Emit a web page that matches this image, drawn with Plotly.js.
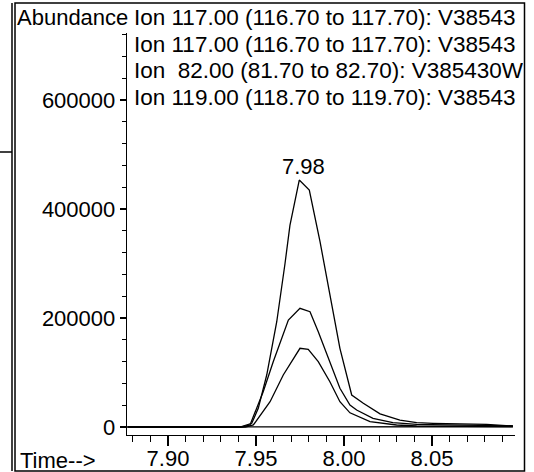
<!DOCTYPE html>
<html><head><meta charset="utf-8">
<script src="https://cdn.plot.ly/plotly-3.0.1.min.js"></script>
<style>html,body{margin:0;padding:0;background:#fff}#chart{width:534px;height:472px}</style>
</head><body><div id="chart"></div>
<script>
// ---- text ----
const ionLabels = [
  "Ion 117.00 (116.70 to 117.70): V38543",
  "Ion 117.00 (116.70 to 117.70): V38543",
  "Ion\u00a0 82.00 (81.70 to 82.70): V385430W",
  "Ion 119.00 (118.70 to 119.70): V38543"
];
const yAxisLabel = "Abundance";
const xAxisLabel = "Time-->";
const peakLabel = "7.98";

// ---- data (time in min, abundance) ----
const timeA  = [7.877, 7.900, 7.920, 7.9409, 7.9476, 7.9513, 7.9561, 7.9618, 7.9665, 7.9693, 7.9746, 7.9803, 7.9864, 7.9920, 7.9977, 8.0044, 8.0110, 8.0205, 8.0318, 8.0413, 8.0506, 8.0811, 8.096];
const abundA = [0, 0, 0, 0, 6800, 34300, 95400, 193200, 300000, 370000, 453200, 434900, 340000, 242200, 144400, 58700, 43500, 24000, 12800, 7900, 6800, 5000, 1800];

const timeB  = [7.877, 7.920, 7.9420, 7.9466, 7.9541, 7.9598, 7.9684, 7.9750, 7.9807, 7.9854, 7.9920, 7.9977, 8.0034, 8.0072, 8.0165, 8.0278, 8.0413, 8.060, 8.080, 8.096];
const abundB = [0, 0, 0, 3700, 64800, 119800, 196300, 217800, 211600, 174900, 119800, 71000, 40400, 31200, 16000, 7900, 5000, 3700, 2800, 1800];

const timeC  = [7.877, 7.920, 7.9440, 7.9485, 7.9580, 7.9655, 7.9712, 7.9750, 7.9797, 7.9854, 7.9920, 7.9977, 8.0034, 8.0148, 8.0299, 8.0413, 8.096];
const abundC = [0, 0, 0, 3700, 46400, 95400, 126100, 144400, 142600, 119800, 83100, 46400, 26000, 9700, 3700, 1800, 900];

const timeD  = [7.877, 7.940, 7.960, 7.975, 7.990, 8.010, 8.096];
const abundD = [300, 400, 700, 1000, 800, 600, 500];

// ---- layout geometry (pixels) ----
const W = 534, H = 472;
const mL = 127, mR = 19, mT = 33, mB = 37;
const pw = W - mL - mR, ph = H - mT - mB;
const px = x => (x - mL) / pw;        // page px -> paper x
const py = y => (H - mB - y) / ph;    // page px -> paper y

const FONT = "Liberation Sans, Arial, Helvetica, sans-serif";
const line = {color: "#000", width: 1.3};

const traces = [
  {x: timeA, y: abundA, name: ionLabels[0]},
  {x: timeC, y: abundC, name: ionLabels[1]},
  {x: timeD, y: abundD, name: ionLabels[2]},
  {x: timeB, y: abundB, name: ionLabels[3]}
].map(t => Object.assign(t, {type: "scatter", mode: "lines", line: line, showlegend: false, hoverinfo: "skip"}));

// apex of main peak
let iMax = 0;
abundA.forEach((v, i) => { if (v > abundA[iMax]) iMax = i; });

const annotations = [
  {xref: "paper", yref: "paper", x: px(15), y: py(17.5), xanchor: "left", yanchor: "middle",
   text: yAxisLabel, showarrow: false, font: {family: FONT, size: 22, color: "#000"}},
  {xref: "paper", yref: "paper", x: px(18), y: py(460), xanchor: "left", yanchor: "middle",
   text: xAxisLabel, showarrow: false, font: {family: FONT, size: 22, color: "#000"}},
  {xref: "x", yref: "y", x: timeA[iMax], y: abundA[iMax], xanchor: "center", yanchor: "middle",
   yshift: 14, xshift: 4, text: peakLabel, showarrow: false, font: {family: FONT, size: 22, color: "#000"}}
];
const lineY = [17.5, 44.2, 70.9, 97.6];
ionLabels.forEach((t, i) => annotations.push({
  xref: "paper", yref: "paper", x: px(132), y: py(lineY[i]), xanchor: "left", yanchor: "middle",
  width: 389, align: "left", text: t, showarrow: false,
  font: {family: FONT, size: 22.5, color: "#000"}
}));

const shapes = [
  {type: "rect", xref: "paper", yref: "paper", x0: px(15), x1: px(524.5), y0: py(471), y1: py(3),
   line: {color: "#000", width: 1.5}},
  {type: "line", xref: "paper", yref: "paper", x0: px(12), x1: px(12), y0: py(471), y1: py(3),
   line: {color: "#000", width: 1.5}},
  {type: "line", xref: "paper", yref: "paper", x0: px(0), x1: px(12), y0: py(152), y1: py(152),
   line: {color: "#000", width: 1.5}}
];

const layout = {
  width: W, height: H,
  margin: {l: mL, r: mR, t: mT, b: mB, pad: 0},
  paper_bgcolor: "#fff", plot_bgcolor: "#fff",
  font: {family: FONT, size: 22, color: "#000"},
  xaxis: {
    range: [7.8767, 8.0972], showgrid: false, zeroline: false,
    showline: true, linecolor: "#000", linewidth: 1.3,
    ticks: "outside", ticklen: 10, tickwidth: 1.3, tickcolor: "#000",
    tick0: 7.90, dtick: 0.05, tickformat: ".2f", ticklabelstandoff: -7,
    minor: {ticks: "outside", ticklen: 6, tickwidth: 1.2, tickcolor: "#000", dtick: 0.01, tick0: 7.90},
    tickfont: {family: FONT, size: 22, color: "#000"}
  },
  yaxis: {
    range: [-14680, 723000], showgrid: false, zeroline: false,
    showline: true, linecolor: "#000", linewidth: 1.3,
    ticks: "outside", ticklen: 6, tickwidth: 1.3, tickcolor: "#000",
    tick0: 0, dtick: 200000, tickformat: "d",
    minor: {ticks: "outside", ticklen: 4, tickwidth: 1.2, tickcolor: "#000", dtick: 40000, tick0: 0},
    tickfont: {family: FONT, size: 22, color: "#000"}
  },
  annotations: annotations,
  shapes: shapes
};

Plotly.newPlot("chart", traces, layout, {staticPlot: true, displayModeBar: false});
</script>
</body></html>
